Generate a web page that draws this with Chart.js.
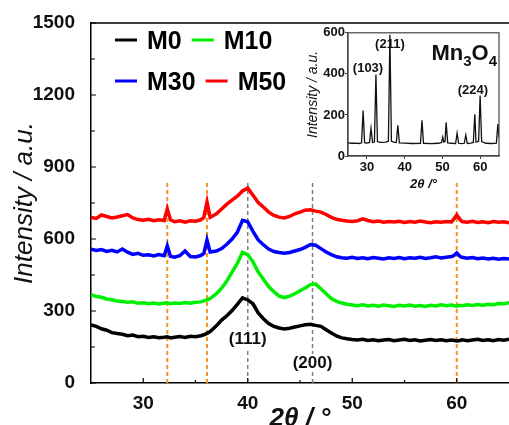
<!DOCTYPE html>
<html lang="en">
<head>
  <meta charset="UTF-8">
  <title>XRD patterns</title>
  <script src="https://cdn.jsdelivr.net/npm/chart.js@4.4.1/dist/chart.umd.min.js"></script>
  <style>
    html, body { margin: 0; padding: 0; background: #fff; }
    .wrap { position: relative; width: 509px; height: 425px; overflow: hidden; }
    #main { position: absolute; left: 0; top: 0; }
    #inset { position: absolute; left: 290px; top: 25px; }
  </style>
</head>
<body>

<div class="wrap">
  <canvas id="main" width="509" height="425"></canvas>
  <canvas id="inset" width="219" height="175"></canvas>
</div>

<script>
  // 2theta grid shared by the four samples
  var twoTheta = [
    25,25.5,26,26.5,27,27.5,28,28.5,29,29.5,
    30,30.5,31,31.5,32,32.3,32.6,33,33.5,34,
    34.5,35,35.5,35.8,36.1,36.4,37,37.5,38,38.5,
    39,39.5,40,40.5,41,41.5,42,42.5,43,43.5,
    44,44.5,45,45.5,46,46.5,47,47.5,48,48.5,
    49,49.5,50,50.5,51,51.5,52,52.5,53,53.5,
    54,54.5,55,55.5,56,56.5,57,57.5,58,58.5,
    59,59.5,59.7,60,60.3,60.5,61,61.5,62,62.5,
    63,63.5,64,64.5,65
  ];

  var m0 = [
    242,236,226,220,210,206,203,197,200,193,
    195,190,193,189,191,193,188,191,194,190,
    195,193,197,201,207,214,238,262,280,302,
    328,355,346,330,292,268,248,236,229,225,
    228,233,238,243,245,240,236,222,208,196,
    188,184,181,179,182,177,180,176,179,181,
    176,179,182,177,180,175,178,181,177,180,
    176,179,178,175,177,180,176,179,182,177,
    180,176,181,178,182
  ];

  var m10 = [
    368,360,357,350,347,342,340,336,338,332,
    334,330,333,329,332,334,330,333,331,335,
    332,336,338,342,346,352,372,395,425,462,
    498,545,535,505,462,432,402,380,362,356,
    362,372,384,396,410,412,393,372,352,340,
    333,328,325,322,326,321,324,320,325,322,
    319,324,321,325,320,323,319,324,321,326,
    322,325,323,320,324,322,326,323,327,324,
    328,326,331,330,334
  ];

  var m30 = [
    558,552,556,548,553,546,558,545,536,540,
    532,534,529,535,530,571,528,524,530,550,
    527,525,531,540,596,546,550,560,578,600,
    628,678,672,632,596,576,558,548,544,541,
    544,550,556,565,577,574,560,546,535,526,
    522,520,524,519,522,518,523,520,517,522,
    519,523,518,522,520,524,519,522,526,521,
    524,527,530,542,528,524,520,523,518,521,
    517,520,516,519,517
  ];

  var m50 = [
    690,686,700,694,688,692,697,702,688,681,
    678,682,676,680,677,725,680,672,676,670,
    676,674,680,690,754,690,705,725,745,762,
    778,800,812,782,752,733,712,698,691,688,
    694,705,712,720,722,716,712,702,690,682,
    678,675,673,676,684,677,672,675,670,673,
    671,674,669,673,670,675,671,668,672,670,
    673,671,682,700,682,673,670,674,669,672,
    668,673,670,672,668
  ];

  var sampleNames = ['M0', 'M10', 'M30', 'M50'];
  var sampleColors = ['#000000', '#00ee00', '#0000ff', '#ff0000'];

  // reference positions: Mn3O4 reflections (orange) and cubic (111)/(200) (grey)
  var mn3o4Lines = [32.3, 36.1, 60.0];
  var cubicLines = [40.0, 46.2];
  var guideTop = 835;

  var peakNames = ['(111)', '(200)'];
  var peakNameX = [40.0, 46.2];
  var peakNameY = [180, 83];

  var xTicks = [30, 40, 50, 60];
  var xMinor = [35, 45, 55];
  var yTicks = [0, 300, 600, 900, 1200, 1500];
  var yMinor = [150, 450, 750, 1050, 1350];

  // inset: Mn3O4 reference pattern
  var insetTheta = [
    25,26,27,28,28.6,29.0,29.4,30,30.7,31.1,
    31.5,32.0,32.4,32.8,33.5,35.0,35.7,36.1,36.5,37.2,
    37.8,38.2,38.6,40,42,44.2,44.6,45.0,47,49.0,
    49.8,50.1,50.4,50.7,51.0,51.4,52.5,53.5,53.9,54.3,
    55.0,55.8,56.2,56.6,57.5,58.2,58.6,58.9,59.3,59.6,
    60.0,60.4,61.5,63,64.3,64.7,65
  ];
  var insetCounts = [
    64,62,63,61,64,222,65,63,66,135,
    66,68,397,70,66,68,72,590,72,68,
    66,150,64,63,61,62,174,62,60,62,
    66,92,68,70,164,64,62,61,111,62,
    60,62,102,61,63,66,203,68,70,72,
    295,70,62,61,63,155,90
  ];
  var insetXTicks = [30, 40, 50, 60];
  var insetYTicks = [0, 200, 400, 600];
  var insetPeakNames = ['(103)', '(211)', '(224)'];
  var insetPeakX = [30.3, 36.1, 58.1];
  var insetPeakY = [426, 542, 319];

  var FONT = '"Liberation Sans", Arial, Helvetica, sans-serif';

  function pairs(xs, ys){
    return xs.map(function(x, i){ return { x: x, y: ys[i] }; });
  }

  var datasets = [];
  [m0, m10, m30, m50].forEach(function(series, i){
    datasets.push({
      label: sampleNames[i],
      data: pairs(twoTheta, series),
      borderColor: sampleColors[i],
      borderWidth: 3.5,
      order: 1
    });
  });
  mn3o4Lines.forEach(function(p){
    datasets.push({
      guide: true,
      data: [{ x: p, y: 0 }, { x: p, y: guideTop }],
      borderColor: '#f7941d',
      borderWidth: 2,
      borderDash: [4, 3],
      order: 2
    });
  });
  cubicLines.forEach(function(p){
    datasets.push({
      guide: true,
      data: [{ x: p, y: 0 }, { x: p, y: guideTop }],
      borderColor: '#808080',
      borderWidth: 1.5,
      borderDash: [4, 3],
      order: 2
    });
  });

  // top frame line + inward tick marks
  var framePlugin = {
    id: 'frame',
    afterDraw: function(chart){
      var ctx = chart.ctx, a = chart.chartArea;
      var sx = chart.scales.x, sy = chart.scales.y;
      ctx.save();
      ctx.strokeStyle = '#000';
      ctx.lineWidth = 1.5;
      ctx.beginPath();
      ctx.moveTo(a.left, a.top);
      ctx.lineTo(a.right, a.top);
      ctx.stroke();
      ctx.lineWidth = 1.2;
      ctx.beginPath();
      xTicks.forEach(function(v){ var px = sx.getPixelForValue(v); ctx.moveTo(px, a.bottom); ctx.lineTo(px, a.bottom - 5); });
      xMinor.forEach(function(v){ var px = sx.getPixelForValue(v); ctx.moveTo(px, a.bottom); ctx.lineTo(px, a.bottom - 3); });
      yTicks.forEach(function(v){ var py = sy.getPixelForValue(v); ctx.moveTo(a.left, py); ctx.lineTo(a.left + 5, py); });
      yMinor.forEach(function(v){ var py = sy.getPixelForValue(v); ctx.moveTo(a.left, py); ctx.lineTo(a.left + 4, py); });
      ctx.stroke();
      ctx.restore();
    }
  };

  // 2 x 2 legend in the upper left corner
  var legendPlugin = {
    id: 'gridLegend',
    afterDraw: function(chart){
      var ctx = chart.ctx;
      var items = chart.data.datasets.filter(function(d){ return !d.guide; });
      ctx.save();
      ctx.font = 'bold 25px ' + FONT;
      ctx.textBaseline = 'middle';
      ctx.textAlign = 'left';
      for (var row = 0; row < 2; row++) {
        var x = 115, y = 42 + row * 41;
        for (var col = 0; col < 2; col++) {
          var d = items[row * 2 + col];
          ctx.strokeStyle = d.borderColor;
          ctx.lineWidth = 3;
          ctx.beginPath();
          ctx.moveTo(x, y - 2);
          ctx.lineTo(x + 22, y - 2);
          ctx.stroke();
          ctx.fillStyle = '#000';
          ctx.fillText(d.label, x + 32, y);
          x += 32 + ctx.measureText(d.label).width + 10;
        }
      }
      ctx.restore();
    }
  };

  var peakPlugin = {
    id: 'peakNames',
    afterDatasetsDraw: function(chart){
      var ctx = chart.ctx, sx = chart.scales.x, sy = chart.scales.y;
      ctx.save();
      ctx.font = 'bold 17px ' + FONT;
      ctx.textAlign = 'center';
      ctx.textBaseline = 'middle';
      peakNames.forEach(function(t, i){
        var px = sx.getPixelForValue(peakNameX[i]), py = sy.getPixelForValue(peakNameY[i]);
        var w = ctx.measureText(t).width;
        ctx.fillStyle = '#fff';
        ctx.fillRect(px - w / 2 - 1, py - 9, w + 2, 18);
        ctx.fillStyle = '#111';
        ctx.fillText(t, px, py);
      });
      ctx.restore();
    }
  };

  new Chart(document.getElementById('main'), {
    type: 'line',
    data: { datasets: datasets },
    options: {
      responsive: false,
      animation: false,
      devicePixelRatio: 1,
      layout: { padding: { top: 23, right: 0, left: 0, bottom: 0 } },
      plugins: { legend: { display: false }, tooltip: { enabled: false } },
      elements: { point: { radius: 0 }, line: { tension: 0 } },
      scales: {
        x: {
          type: 'linear', min: 25, max: 65,
          afterBuildTicks: function(s){ s.ticks = xTicks.map(function(v){ return { value: v }; }); },
          afterFit: function(s){ s.height = 42; },
          grid: { display: false },
          border: { color: '#000', width: 1.5 },
          ticks: { font: { family: FONT, size: 19, weight: 'bold' }, color: '#111', padding: 1 },
          title: {
            display: true, text: '2θ / °', color: '#111',
            font: { family: FONT, size: 26, weight: 'bold', style: 'italic', lineHeight: 1 },
            padding: { top: 0, bottom: -7 }
          }
        },
        y: {
          type: 'linear', min: 0, max: 1500,
          afterBuildTicks: function(s){ s.ticks = yTicks.map(function(v){ return { value: v }; }); },
          afterFit: function(s){ s.width = 91; },
          grid: { display: false },
          border: { color: '#000', width: 1.5 },
          ticks: { font: { family: FONT, size: 19, weight: 'bold' }, color: '#111', padding: 8,
                   callback: function(v){ return String(v); } },
          title: {
            display: true, text: 'Intensity / a.u.', color: '#111',
            font: { family: FONT, size: 26, style: 'italic', weight: 'normal', lineHeight: 1.2 },
            padding: { top: 9, bottom: 0 }
          }
        }
      }
    },
    plugins: [framePlugin, legendPlugin, peakPlugin]
  });

  // ---- inset ----
  var insetFrame = {
    id: 'insetFrame',
    afterDraw: function(chart){
      var ctx = chart.ctx, a = chart.chartArea;
      ctx.save();
      ctx.strokeStyle = '#444';
      ctx.lineWidth = 1.2;
      ctx.strokeRect(a.left, a.top, a.right - a.left, a.bottom - a.top);
      ctx.restore();
    }
  };

  var insetText = {
    id: 'insetText',
    beforeDatasetsDraw: function(chart){
      var ctx = chart.ctx, a = chart.chartArea, sx = chart.scales.x, sy = chart.scales.y;
      ctx.save();
      ctx.fillStyle = '#111';
      ctx.textAlign = 'center';
      ctx.textBaseline = 'middle';
      ctx.font = 'bold 13px ' + FONT;
      insetPeakNames.forEach(function(t, i){
        ctx.fillText(t, sx.getPixelForValue(insetPeakX[i]), sy.getPixelForValue(insetPeakY[i]));
      });
      // Mn3O4 with subscripts
      var big = 'bold 22px ' + FONT, small = 'bold 15px ' + FONT;
      var parts = [['Mn', big, 0], ['3', small, 6], ['O', big, 0], ['4', small, 6]];
      var total = 0;
      parts.forEach(function(p){ ctx.font = p[1]; total += ctx.measureText(p[0]).width; });
      var x = a.right - 2 - total, base = a.top + 27;
      ctx.textAlign = 'left';
      ctx.textBaseline = 'alphabetic';
      parts.forEach(function(p){
        ctx.font = p[1];
        ctx.fillText(p[0], x, base + p[2]);
        x += ctx.measureText(p[0]).width;
      });
      ctx.restore();
    }
  };

  new Chart(document.getElementById('inset'), {
    type: 'line',
    data: { datasets: [{ data: pairs(insetTheta, insetCounts), borderColor: '#111', borderWidth: 1.3 }] },
    options: {
      responsive: false,
      animation: false,
      devicePixelRatio: 1,
      layout: { padding: { top: 7, right: 10, left: 0, bottom: 0 } },
      plugins: { legend: { display: false }, tooltip: { enabled: false } },
      elements: { point: { radius: 0 }, line: { tension: 0 } },
      scales: {
        x: {
          type: 'linear', min: 25, max: 65,
          afterBuildTicks: function(s){ s.ticks = insetXTicks.map(function(v){ return { value: v }; }); },
          afterFit: function(s){ s.height = 44; },
          grid: { display: true, drawOnChartArea: false, tickLength: 3, color: '#444' },
          border: { color: '#444', width: 1.2 },
          ticks: { font: { family: FONT, size: 13, weight: 'bold' }, color: '#111', padding: 1 },
          title: {
            display: true, text: '2θ /°', color: '#111',
            font: { family: FONT, size: 13, weight: 'bold', style: 'italic', lineHeight: 1.2 },
            padding: { top: 0, bottom: 8 }
          }
        },
        y: {
          type: 'linear', min: 0, max: 600,
          afterBuildTicks: function(s){ s.ticks = insetYTicks.map(function(v){ return { value: v }; }); },
          afterFit: function(s){ s.width = 58; },
          grid: { display: true, drawOnChartArea: false, tickLength: 3, color: '#444' },
          border: { color: '#444', width: 1.2 },
          ticks: { font: { family: FONT, size: 13, weight: 'bold' }, color: '#111', padding: 0 },
          title: {
            display: true, text: 'Intensity / a.u.', color: '#111',
            font: { family: FONT, size: 14, style: 'italic', weight: 'normal', lineHeight: 1.2 },
            padding: { top: 15, bottom: 0 }
          }
        }
      }
    },
    plugins: [insetFrame, insetText]
  });
</script>

</body>
</html>
